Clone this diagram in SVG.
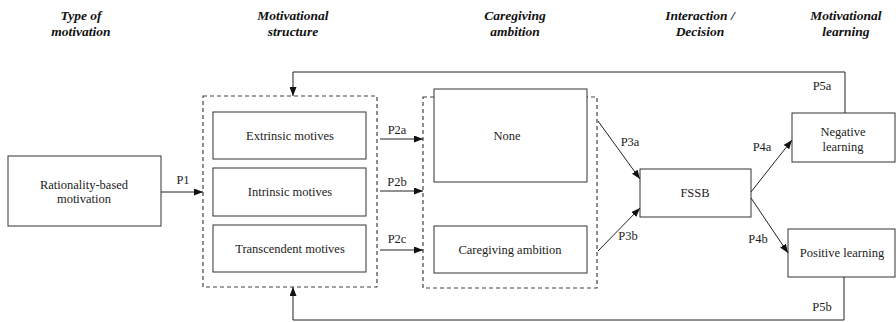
<svg xmlns="http://www.w3.org/2000/svg" width="896" height="322" viewBox="0 0 896 322">
<style>
.hd{font-family:"Liberation Serif","Times New Roman",serif;font-size:13.5px;font-weight:bold;font-style:italic;fill:#111;text-anchor:middle}
.t{font-family:"Liberation Serif","Times New Roman",serif;font-size:12.5px;fill:#222;text-anchor:middle}
.box{fill:#fff;stroke:#333;stroke-width:1}
.dash{fill:none;stroke:#444;stroke-width:1.2;stroke-dasharray:4,3}
.c{fill:none;stroke:#222;stroke-width:1}
</style>
<defs>
<marker id="ah" markerWidth="9" markerHeight="7" refX="9" refY="3.5" orient="auto" markerUnits="userSpaceOnUse">
<path d="M0,0 L9,3.5 L0,7 z" fill="#111"/>
</marker>
</defs>
<g id="headers">
<text class="hd" x="81" y="20">Type of</text>
<text class="hd" x="81" y="36">motivation</text>
<text class="hd" x="293" y="20">Motivational</text>
<text class="hd" x="293" y="36">structure</text>
<text class="hd" x="515" y="20">Caregiving</text>
<text class="hd" x="515" y="36">ambition</text>
<text class="hd" x="700" y="20">Interaction /</text>
<text class="hd" x="700" y="36">Decision</text>
<text class="hd" x="846" y="20">Motivational</text>
<text class="hd" x="846" y="36">learning</text>
</g>
<g id="group-structure"><rect class="dash" x="203" y="96" width="174" height="191"/></g>
<g id="group-ambition"><rect class="dash" x="423" y="97" width="174" height="191"/></g>
<g id="rational"><rect class="box" x="8" y="156" width="153" height="70"/>
<text class="t" x="84" y="189">Rationality-based</text><text class="t" x="84" y="203">motivation</text></g>
<g id="extrinsic"><rect class="box" x="213" y="112" width="153" height="47"/><text class="t" x="290" y="140">Extrinsic motives</text></g>
<g id="intrinsic"><rect class="box" x="213" y="168" width="153" height="48"/><text class="t" x="290" y="196">Intrinsic motives</text></g>
<g id="transcendent"><rect class="box" x="213" y="225" width="153" height="47"/><text class="t" x="290" y="253">Transcendent motives</text></g>
<g id="none"><rect class="box" x="434" y="89" width="153" height="93"/><text class="t" x="507" y="140">None</text></g>
<g id="caregiving"><rect class="box" x="434" y="226" width="153" height="47"/><text class="t" x="510" y="254">Caregiving ambition</text></g>
<g id="fssb"><rect class="box" x="640" y="169" width="111" height="48"/><text class="t" x="695" y="197">FSSB</text></g>
<g id="negative"><rect class="box" x="792" y="113" width="103" height="49"/>
<text class="t" x="843" y="136">Negative</text><text class="t" x="843" y="151">learning</text></g>
<g id="positive"><rect class="box" x="788" y="229" width="107" height="48"/><text class="t" x="842" y="257">Positive learning</text></g>
<g id="connectors">
<line class="c" x1="161" y1="192" x2="203" y2="192" marker-end="url(#ah)"/>
<line class="c" x1="380" y1="139" x2="423" y2="139" marker-end="url(#ah)"/>
<line class="c" x1="380" y1="191" x2="423" y2="191" marker-end="url(#ah)"/>
<line class="c" x1="380" y1="250" x2="423" y2="250" marker-end="url(#ah)"/>
<line class="c" x1="598" y1="121" x2="640" y2="179" marker-end="url(#ah)"/>
<line class="c" x1="598" y1="251" x2="640" y2="208" marker-end="url(#ah)"/>
<line class="c" x1="751" y1="192" x2="792" y2="140" marker-end="url(#ah)"/>
<line class="c" x1="751" y1="198" x2="788" y2="253" marker-end="url(#ah)"/>
<polyline class="c" points="845,113 845,72 293,72 293,96" marker-end="url(#ah)"/>
<polyline class="c" points="844,277 844,320 293,320 293,287" marker-end="url(#ah)"/>
<text class="t" x="183" y="184">P1</text>
<text class="t" x="397" y="134">P2a</text>
<text class="t" x="397" y="186">P2b</text>
<text class="t" x="397" y="243">P2c</text>
<text class="t" x="630" y="146">P3a</text>
<text class="t" x="628" y="240">P3b</text>
<text class="t" x="762" y="151">P4a</text>
<text class="t" x="758" y="243">P4b</text>
<text class="t" x="822" y="90">P5a</text>
<text class="t" x="822" y="311">P5b</text>
</g>
</svg>
